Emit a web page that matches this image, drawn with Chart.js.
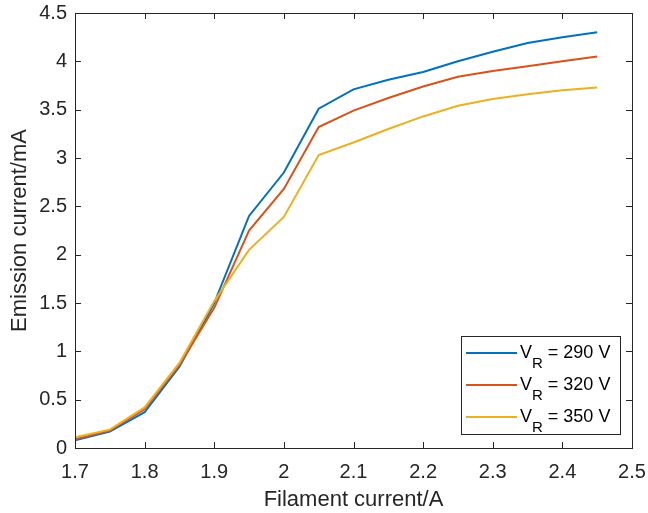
<!DOCTYPE html>
<html>
<head>
<meta charset="utf-8">
<script src="https://cdn.jsdelivr.net/npm/chart.js@4"></script>
<style>
  html, body { margin: 0; padding: 0; background: #fff; }
  #wrap { width: 648px; height: 513px; }
</style>
</head>
<body>
<div id="wrap"><canvas id="grafico" width="648" height="513"></canvas></div>
<script>
// filament current (A)
const corrente = [1.7, 1.75, 1.8, 1.85, 1.9, 1.95, 2.0, 2.05, 2.1, 2.15, 2.2, 2.25, 2.3, 2.35, 2.4, 2.45];
// emission current (mA) per V_R
const v290 = [0.08, 0.17, 0.37, 0.84, 1.50, 2.40, 2.85, 3.51, 3.71, 3.81, 3.89, 4.00, 4.10, 4.19, 4.25, 4.30];
const v320 = [0.09, 0.18, 0.40, 0.86, 1.45, 2.25, 2.68, 3.32, 3.49, 3.62, 3.74, 3.84, 3.90, 3.95, 4.00, 4.05];
const v350 = [0.11, 0.19, 0.42, 0.88, 1.52, 2.05, 2.39, 3.03, 3.16, 3.30, 3.43, 3.54, 3.61, 3.66, 3.70, 3.73];
const tensoes = [290, 320, 350];
const cores = ['#0072BD', '#D95319', '#EDB120'];

const xTicks = [1.7, 1.8, 1.9, 2.0, 2.1, 2.2, 2.3, 2.4, 2.5];
const yTicks = [0, 0.5, 1, 1.5, 2, 2.5, 3, 3.5, 4, 4.5];

const FONT = 'Liberation Sans, Arial, Helvetica, sans-serif';
const AXIS = '#262626';

function pontos(ys) {
    return corrente.map((x, i) => ({ x: x, y: ys[i] }));
}

function fmt(v) {
    return String(+v.toFixed(1));
}

// box with inward ticks on all four sides (MATLAB style)
const caixa = {
    id: 'caixa',
    afterDraw(chart) {
        const { ctx, chartArea: a, scales } = chart;
        const tl = 6;
        ctx.save();
        ctx.strokeStyle = AXIS;
        ctx.lineWidth = 1;
        ctx.beginPath();
        xTicks.forEach(v => {
            const px = Math.round(scales.x.getPixelForValue(v)) + 0.5;
            ctx.moveTo(px, a.bottom); ctx.lineTo(px, a.bottom - tl);
            ctx.moveTo(px, a.top); ctx.lineTo(px, a.top + tl);
        });
        yTicks.forEach(v => {
            const py = Math.round(scales.y.getPixelForValue(v)) + 0.5;
            ctx.moveTo(a.left, py); ctx.lineTo(a.left + tl, py);
            ctx.moveTo(a.right, py); ctx.lineTo(a.right - tl, py);
        });
        ctx.stroke();
        ctx.strokeRect(Math.round(a.left) + 0.5, Math.round(a.top) + 0.5,
            Math.round(a.right - a.left), Math.round(a.bottom - a.top));
        ctx.restore();
    }
};

// legend with subscript R
const legenda = {
    id: 'legenda',
    afterDraw(chart) {
        const ctx = chart.ctx;
        const bx = 461, by = 336, bw = 159, bh = 98;
        ctx.save();
        ctx.fillStyle = '#fff';
        ctx.fillRect(bx, by, bw, bh);
        ctx.strokeStyle = AXIS;
        ctx.lineWidth = 1;
        ctx.strokeRect(bx + 0.5, by + 0.5, bw, bh);
        tensoes.forEach((v, i) => {
            const cy = 353 + i * 32;
            ctx.strokeStyle = cores[i];
            ctx.lineWidth = 2;
            ctx.beginPath();
            ctx.moveTo(466, cy); ctx.lineTo(517, cy);
            ctx.stroke();
            ctx.fillStyle = '#000';
            ctx.textBaseline = 'alphabetic';
            ctx.textAlign = 'left';
            let x = 520;
            const base = cy + 4.5;
            ctx.font = '18px ' + FONT;
            ctx.fillText('V', x, base);
            x += ctx.measureText('V').width;
            ctx.font = '15px ' + FONT;
            ctx.fillText('R', x, base + 10);
            x += ctx.measureText('R').width;
            ctx.font = '18px ' + FONT;
            ctx.fillText(' = ' + v + ' V', x, base);
        });
        ctx.restore();
    }
};

const ctx = document.getElementById('grafico').getContext('2d');
window.myChart = new Chart(ctx, {
    type: 'line',
    data: {
        datasets: [
            { label: 'V_R = 290 V', data: pontos(v290), borderColor: cores[0], order: 2 },
            { label: 'V_R = 320 V', data: pontos(v320), borderColor: cores[1], order: 1 },
            { label: 'V_R = 350 V', data: pontos(v350), borderColor: cores[2], order: 0 }
        ]
    },
    options: {
        responsive: false,
        animation: false,
        parsing: false,
        elements: {
            line: { borderWidth: 2, tension: 0, fill: false },
            point: { radius: 0 }
        },
        layout: { padding: { top: 13, right: 16, left: 0, bottom: 0 } },
        plugins: {
            legend: { display: false },
            tooltip: { enabled: false }
        },
        scales: {
            x: {
                type: 'linear',
                min: 1.7,
                max: 2.5,
                grid: { display: false, drawTicks: false },
                border: { display: false },
                afterBuildTicks: s => { s.ticks = xTicks.map(v => ({ value: v })); },
                afterFit: s => { s.height = 65; s.paddingLeft = 0; s.paddingRight = 0; },
                ticks: {
                    color: AXIS,
                    font: { family: FONT, size: 20 },
                    padding: 12,
                    maxRotation: 0,
                    autoSkip: false,
                    callback: v => fmt(v)
                },
                title: {
                    display: true,
                    text: 'Filament current/A',
                    color: AXIS,
                    font: { family: FONT, size: 22 },
                    padding: { top: 0, bottom: 0 }
                }
            },
            y: {
                type: 'linear',
                min: 0,
                max: 4.5,
                grid: { display: false, drawTicks: false },
                border: { display: false },
                afterBuildTicks: s => { s.ticks = yTicks.map(v => ({ value: v })); },
                afterFit: s => { s.width = 75; s.paddingTop = 0; s.paddingBottom = 0; },
                ticks: {
                    color: AXIS,
                    font: { family: FONT, size: 20 },
                    padding: 8,
                    autoSkip: false,
                    callback: v => fmt(v)
                },
                title: {
                    display: true,
                    text: 'Emission current/mA',
                    color: AXIS,
                    font: { family: FONT, size: 22 },
                    padding: { top: 7, bottom: 0 }
                }
            }
        }
    },
    plugins: [caixa, legenda]
});
</script>
</body>
</html>
